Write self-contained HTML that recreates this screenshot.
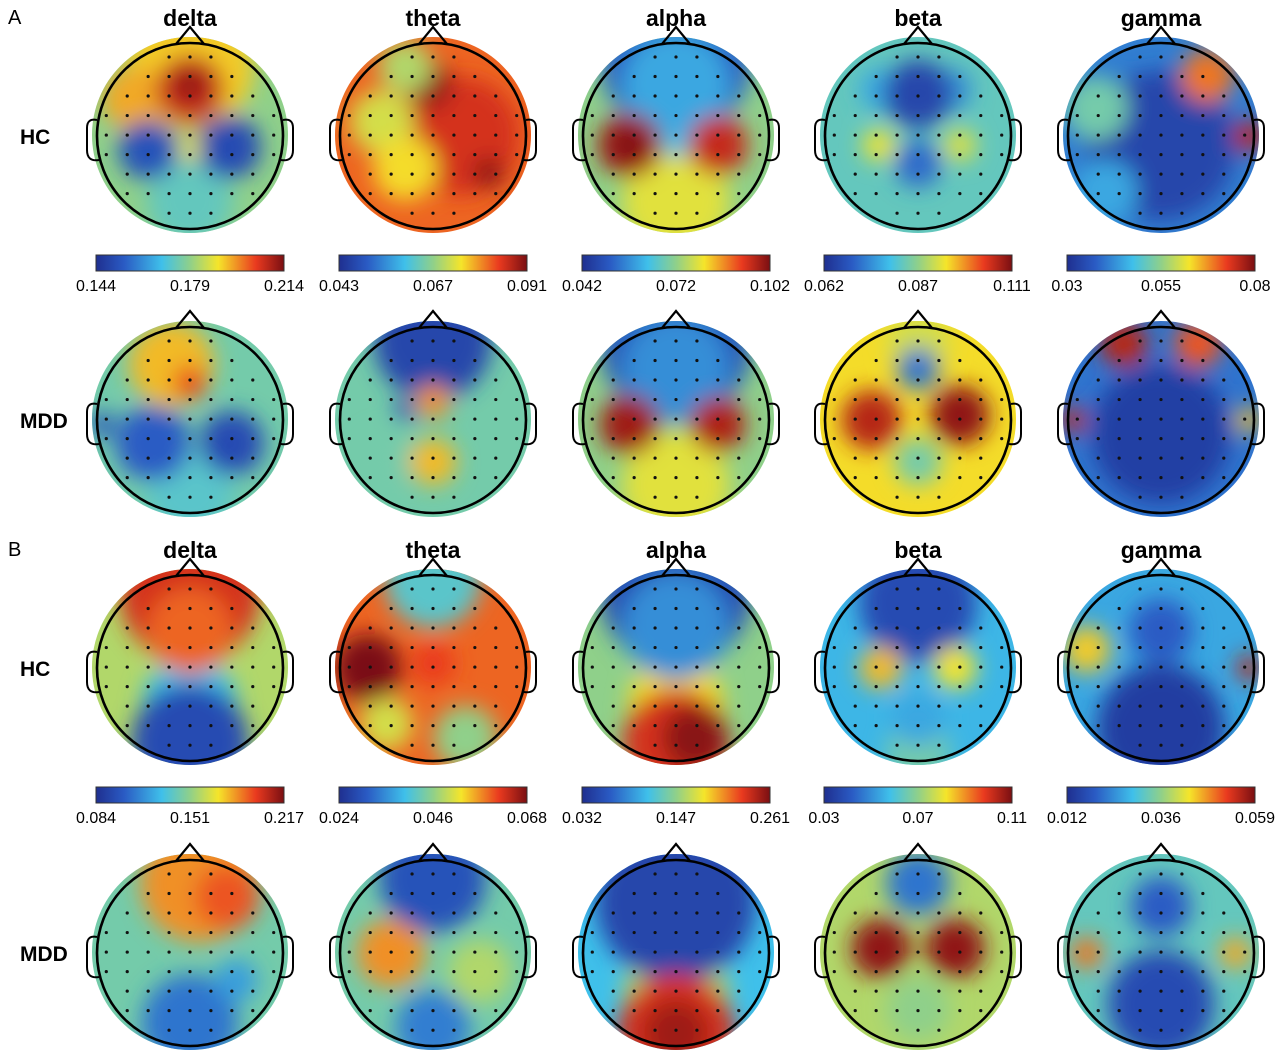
<!DOCTYPE html>
<html><head><meta charset="utf-8"><style>
body{margin:0;background:#fff;width:1280px;height:1054px;overflow:hidden;font-family:"Liberation Sans",Arial,sans-serif}
</style></head><body>
<svg id="fig" width="1280" height="1054" viewBox="0 0 1280 1054" xmlns="http://www.w3.org/2000/svg">
<defs>
<filter id="blur" x="-50%" y="-50%" width="200%" height="200%"><feGaussianBlur stdDeviation="11"/></filter>
<linearGradient id="jet" x1="0" x2="1" y1="0" y2="0">
<stop offset="0" stop-color="#1f2f8f"/><stop offset="0.15" stop-color="#2a5bc4"/><stop offset="0.35" stop-color="#3fc0ea"/><stop offset="0.5" stop-color="#8fd08a"/><stop offset="0.65" stop-color="#f5e52a"/><stop offset="0.85" stop-color="#ea3a1f"/><stop offset="1" stop-color="#7a0f12"/>
</linearGradient>
</defs>
</svg>
<script>
const bands=['delta','theta','alpha','beta','gamma'];
const ticksA=[['0.144','0.179','0.214'],['0.043','0.067','0.091'],['0.042','0.072','0.102'],['0.062','0.087','0.111'],['0.03','0.055','0.08']];
const ticksB=[['0.084','0.151','0.217'],['0.024','0.046','0.068'],['0.032','0.147','0.261'],['0.03','0.07','0.11'],['0.012','0.036','0.059']];
// each map: [base, blobs [x,y,r,value]] drawn in order
const mapsAHC=[
[0.5,[[0,-0.75,0.6,0.68],[-0.6,-0.4,0.3,0.72],[0,-0.5,0.32,0.9],[0,-0.55,0.14,0.98],[0,0.7,0.4,0.42],[-0.45,0.15,0.28,0.12],[0.42,0.12,0.3,0.1],[0,0.15,0.1,0.65]]],
[0.8,[[0.3,0,0.55,0.88],[-0.55,-0.15,0.3,0.6],[-0.3,0.35,0.3,0.66],[-0.05,-0.55,0.22,0.97],[0.6,0.4,0.15,0.97],[-0.3,-0.75,0.25,0.55]]],
[0.5,[[0,-0.8,0.7,0.15],[0,0.7,0.5,0.62],[0,-0.55,0.5,0.3],[-0.5,0.1,0.3,0.95],[-0.5,0.1,0.14,1],[0.45,0.1,0.28,0.9],[0,0.1,0.12,0.35]]],
[0.42,[[0.35,-0.5,0.2,0.25],[-0.4,-0.5,0.2,0.3],[0,-0.45,0.32,0.08],[0,0.3,0.22,0.18],[-0.42,0.1,0.15,0.65],[0.45,0.1,0.15,0.62]]],
[0.22,[[0,0.1,0.7,0.08],[0.5,-0.65,0.25,0.78],[-0.7,-0.3,0.3,0.45],[0.95,0,0.15,0.92],[-0.6,0.6,0.3,0.3]]]];
const mapsAMDD=[
[0.45,[[0,0.75,0.4,0.4],[-0.2,-0.6,0.4,0.7],[0,-0.4,0.15,0.85],[-0.4,0.25,0.35,0.15],[0.45,0.25,0.3,0.1],[-0.95,0.05,0.12,0.12]]],
[0.45,[[-0.5,0.4,0.25,0.45],[0,-0.85,0.55,0.08],[0,-0.2,0.16,0.75],[0,0.45,0.22,0.7],[-0.3,-0.1,0.1,0.1]]],
[0.5,[[0,0.7,0.5,0.62],[0,-0.8,0.7,0.12],[0,-0.55,0.5,0.25],[-0.5,0.05,0.28,0.95],[0.45,0.05,0.26,0.93]]],
[0.66,[[0,-0.85,0.3,0.6],[-0.5,0,0.28,0.92],[0.45,-0.05,0.28,0.97],[0,-0.55,0.2,0.2],[0,0.45,0.22,0.45]]],
[0.2,[[0,0.15,0.65,0.06],[-0.4,-0.82,0.22,0.92],[0.4,-0.82,0.22,0.82],[-0.95,0,0.12,0.9],[0.95,0,0.12,0.7]]]];
const mapsBHC=[
[0.55,[[0,0.4,0.45,0.35],[0,-0.8,0.65,0.88],[0,-0.4,0.4,0.8],[0,0.8,0.55,0.1]]],
[0.8,[[0,-0.95,0.45,0.4],[0.35,0.75,0.3,0.5],[-0.5,0.6,0.25,0.6],[-0.7,0,0.32,1],[0,-0.05,0.2,0.85]]],
[0.5,[[0,0.4,0.45,0.66],[0,-0.8,0.7,0.1],[0,-0.45,0.5,0.25],[0,0.8,0.5,0.88],[0.2,0.75,0.3,0.98]]],
[0.33,[[0,0.9,0.3,0.45],[0,-0.7,0.55,0.1],[-0.4,0,0.2,0.7],[0.4,0,0.2,0.65],[0,0.55,0.25,0.3]]],
[0.3,[[0,0.65,0.6,0.05],[-0.8,-0.2,0.22,0.68],[0.95,0,0.12,0.92],[0,-0.4,0.3,0.15]]]];
const mapsBMDD=[
[0.45,[[0.1,-0.75,0.55,0.75],[0.4,-0.6,0.3,0.82],[0,0.75,0.45,0.2],[0.5,0.3,0.2,0.28]]],
[0.45,[[0.5,0.2,0.3,0.55],[-0.45,0,0.32,0.75],[0,-0.8,0.5,0.12],[0,0.8,0.35,0.22]]],
[0.35,[[0,0.45,0.5,0.55],[0,-0.55,0.75,0.08],[0,0.85,0.55,0.88],[0,0.85,0.3,0.95]]],
[0.55,[[0,0.6,0.3,0.5],[-0.4,-0.05,0.28,0.97],[0.4,-0.05,0.28,0.97],[0,-0.75,0.3,0.2]]],
[0.42,[[0,-0.5,0.28,0.15],[0,0.55,0.5,0.1],[-0.8,0,0.15,0.78],[0.8,0,0.15,0.72]]]];
const colX=[190,433,676,918,1161];
const rowY=[136,420,668,953];
const R=93;
const NS='http://www.w3.org/2000/svg';
const svg=document.getElementById('fig');
function jet(v){v=Math.max(0,Math.min(1,v));
 const st=[[0,[31,47,143]],[0.15,[42,91,196]],[0.35,[63,192,234]],[0.5,[143,208,138]],[0.65,[245,229,42]],[0.85,[234,58,31]],[1,[122,15,18]]];
 for(let i=1;i<st.length;i++){if(v<=st[i][0]){const a=st[i-1],b=st[i],t=(v-a[0])/(b[0]-a[0]);
 return 'rgb('+a[1].map((c,k)=>Math.round(c+(b[1][k]-c)*t)).join(',')+')';}}return 'rgb(122,15,18)';}
function el(tag,attrs,parent){const e=document.createElementNS(NS,tag);for(const k in attrs)e.setAttribute(k,attrs[k]);(parent||svg).appendChild(e);return e;}
function txt(x,y,s,size,weight,anchor,name){const t=el('text',{x:x,y:y,'font-size':size,'font-weight':weight,'text-anchor':anchor,fill:'#000','font-family':'Liberation Sans, Arial, sans-serif'});t.textContent=s;

return t;}
let cid=0;
function head(cx,cy,map,name){
 const g=el('g',{});
 
 
 const id='c'+(cid++);
 const cp=el('clipPath',{id:id},g);el('circle',{cx:cx,cy:cy-1,r:R+5},cp);
 const mg=el('g',{'clip-path':'url(#'+id+')'},g);
 el('circle',{cx:cx,cy:cy,r:R+30,fill:jet(map[0])},mg);
 const bg=el('g',{filter:'url(#blur)'},mg);
 map[1].forEach(b=>{const c=el('circle',{cx:cx+b[0]*R,cy:cy+b[1]*R,r:b[2]*R*1.15,fill:jet(b[3])},bg);
  
  });
 for(let yy=-0.85;yy<=0.86;yy+=0.21){for(let xx=-0.9;xx<=0.91;xx+=0.225){if(xx*xx+yy*yy<0.86){
  el('circle',{cx:cx+xx*R,cy:cy+yy*R,r:1.6,fill:'#111'},g);}}}
 el('circle',{cx:cx,cy:cy,r:R,fill:'none',stroke:'#000','stroke-width':2.6},g);
 el('path',{d:`M${cx-14} ${cy-R+1} L${cx} ${cy-R-16} L${cx+14} ${cy-R+1}`,fill:'none',stroke:'#000','stroke-width':2.2},g);
 el('path',{d:`M${cx-R} ${cy-16} q-10 -2 -10 8 v22 q0 12 12 10`,fill:'none',stroke:'#000','stroke-width':2},g);
 el('path',{d:`M${cx+R} ${cy-16} q10 -2 10 8 v22 q0 12 -12 10`,fill:'none',stroke:'#000','stroke-width':2},g);
}
function cbar(cx,y,ticks,name){
 const r=el('rect',{x:cx-94,y:y,width:188,height:16,fill:'url(#jet)',stroke:'#333','stroke-width':1});
 
 
 txt(cx-94,y+36,ticks[0],16,'normal','middle',name+'-min');
 txt(cx,y+36,ticks[1],16,'normal','middle',name+'-mid');
 txt(cx+94,y+36,ticks[2],16,'normal','middle',name+'-max');
}
txt(8,24,'A',20,'normal','start','panel-a-label');
txt(8,556,'B',20,'normal','start','panel-b-label');
[[0,mapsAHC,'a-hc'],[1,mapsAMDD,'a-mdd'],[2,mapsBHC,'b-hc'],[3,mapsBMDD,'b-mdd']].forEach(([ri,maps,nm])=>{
 maps.forEach((m,i)=>head(colX[i],rowY[ri],m,nm+'-'+bands[i]+'-topomap'));
 txt(20,rowY[ri]+8,ri%2?'MDD':'HC',21,'bold','start',nm+'-row-label');
});
bands.forEach((b,i)=>{
 txt(colX[i],26,b,23,'bold','middle','a-'+b+'-title');
 txt(colX[i],558,b,23,'bold','middle','b-'+b+'-title');
 cbar(colX[i],255,ticksA[i],'a-'+b+'-colorbar');
 cbar(colX[i],787,ticksB[i],'b-'+b+'-colorbar');
});
</script>
</body></html>
